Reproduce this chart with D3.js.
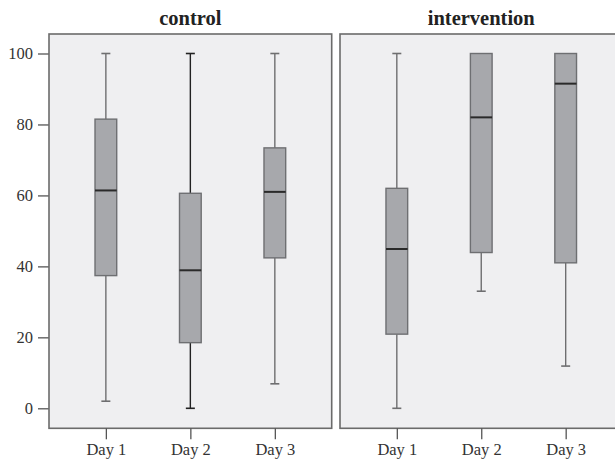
<!DOCTYPE html>
<html><head><meta charset="utf-8">
<script src="https://cdn.jsdelivr.net/npm/d3@7"></script>
<style>body{margin:0;background:#fff;} svg{display:block;}</style>
</head><body>
<script>
const panels = ["control", "intervention"];
const days = ["Day 1", "Day 2", "Day 3"];
const yTicks = [0, 20, 40, 60, 80, 100];
// [min, q1, median, q3, max] per day
const controlStats = [
  [2.0, 37.4, 61.4, 81.5, 100],
  [0, 18.5, 38.9, 60.6, 100],
  [6.9, 42.4, 61.0, 73.4, 100]
];
const interventionStats = [
  [0, 20.9, 44.9, 62.0, 100],
  [33.0, 43.9, 82.0, 100, 100],
  [11.9, 41.0, 91.5, 100, 100]
];
const statsByPanel = [controlStats, interventionStats];

const W = 615, H = 462;
const svg = d3.select("body").append("svg").attr("width", W).attr("height", H);
const font = "'Liberation Serif', 'Times New Roman', serif";

const plotTop = 34, plotBottom = 428.3;
const y = d3.scaleLinear().domain([0, 100]).range([408.3, 53.5]);
const panelX = [[49, 331.7], [340, 622.5]];

// y axis
const yAxisG = svg.append("g").attr("transform", "translate(49,0)")
  .call(d3.axisLeft(y).tickValues(yTicks).tickSize(11).tickPadding(5));
yAxisG.select(".domain").remove();
yAxisG.selectAll("line").attr("stroke", "#555").attr("stroke-width", 1.3);
yAxisG.selectAll("text").attr("font-family", font).attr("font-size", 16.5).attr("fill", "#333");

panels.forEach((name, pi) => {
  const [x0, x1] = panelX[pi];
  const x = d3.scalePoint().domain(days).range([x0, x1]).padding(0.673);
  const g = svg.append("g");
  g.append("rect").attr("x", x0).attr("y", plotTop).attr("width", x1 - x0).attr("height", plotBottom - plotTop)
    .attr("fill", "#efeff1").attr("stroke", "#6b6b6b").attr("stroke-width", 1.6);
  g.append("text").attr("x", x(days[1])).attr("y", 25)
    .attr("text-anchor", "middle").attr("font-family", font).attr("font-weight", "bold")
    .attr("font-size", 20.5).attr("fill", "#222").text(name);

  const xa = svg.append("g").attr("transform", `translate(0,${plotBottom})`)
    .call(d3.axisBottom(x).tickSize(11).tickPadding(4));
  xa.select(".domain").remove();
  xa.selectAll("line").attr("stroke", "#555").attr("stroke-width", 1.3);
  xa.selectAll("text").attr("font-family", font).attr("font-size", 16.5).attr("fill", "#333");

  const bw = 21.7, cw = 9;
  statsByPanel[pi].forEach((s, i) => {
    const cx = x(days[i]);
    const [mn, q1, md, q3, mx] = s;
    const wc = (pi === 0 && i === 1) ? "#222" : "#6e6e70";
    if (mx > q3) {
      g.append("line").attr("x1", cx).attr("x2", cx).attr("y1", y(q3)).attr("y2", y(mx)).attr("stroke", wc).attr("stroke-width", 1.4);
      g.append("line").attr("x1", cx - cw / 2).attr("x2", cx + cw / 2).attr("y1", y(mx)).attr("y2", y(mx)).attr("stroke", wc).attr("stroke-width", 1.6);
    }
    if (mn < q1) {
      g.append("line").attr("x1", cx).attr("x2", cx).attr("y1", y(q1)).attr("y2", y(mn)).attr("stroke", wc).attr("stroke-width", 1.4);
      g.append("line").attr("x1", cx - cw / 2).attr("x2", cx + cw / 2).attr("y1", y(mn)).attr("y2", y(mn)).attr("stroke", wc).attr("stroke-width", 1.6);
    }
    g.append("rect").attr("x", cx - bw / 2).attr("y", y(q3)).attr("width", bw).attr("height", y(q1) - y(q3))
      .attr("fill", "#a7a8ac").attr("stroke", "#6e6f72").attr("stroke-width", 1.4);
    g.append("line").attr("x1", cx - bw / 2).attr("x2", cx + bw / 2).attr("y1", y(md)).attr("y2", y(md))
      .attr("stroke", "#2a2a2a").attr("stroke-width", 2);
  });
});
</script>
</body></html>
